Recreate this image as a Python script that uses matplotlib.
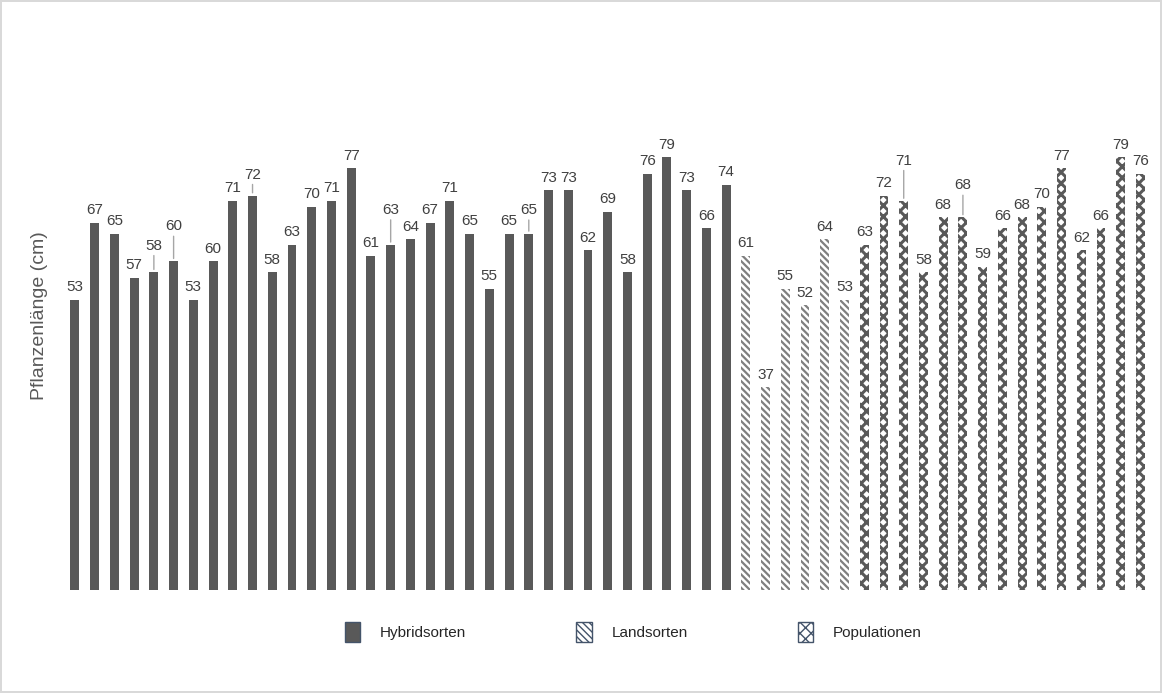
import matplotlib.pyplot as plt
import numpy as np

# Plant length per variety (cm), grouped by variety type
hybrid = [53, 67, 65, 57, 58, 60, 53, 60, 71, 72, 58, 63, 70, 71, 77, 61, 63,
          64, 67, 71, 65, 55, 65, 65, 73, 73, 62, 69, 58, 76, 79, 73, 66, 74]
land = [61, 37, 55, 52, 64, 53]
popul = [63, 72, 71, 58, 68, 68, 59, 66, 68, 70, 77, 62, 66, 79, 76]
groups = ['Hybridsorten', 'Landsorten', 'Populationen']

# labels that sit higher with a leader line: (group, index) -> extra points
raised = {(0, 4): 10, (0, 5): 16, (0, 9): 6, (0, 16): 16, (0, 23): 8,
          (2, 2): 20, (2, 5): 14}

plt.rcParams['font.family'] = ['Liberation Sans', 'DejaVu Sans']

fig = plt.figure(figsize=(11.62, 6.93), dpi=100)
fig.patch.set_edgecolor('#d9d9d9')
fig.patch.set_linewidth(1.5)
ax = fig.add_axes([0.056, 0.149, 0.934, 0.79])

styles = [dict(color='#595959', edgecolor='#595959'),
          dict(color='white', edgecolor='#7f7f7f', hatch='\\\\\\\\\\'),
          dict(color='white', edgecolor='#595959', hatch='xxx')]
hatch_lw = [1.0, 1.6, 2.2]

start = 0
for g, vals in enumerate([hybrid, land, popul]):
    x = np.arange(start, start + len(vals))
    with plt.rc_context({'hatch.linewidth': hatch_lw[g]}):
        ax.bar(x, vals, width=0.45, linewidth=0, label=groups[g], **styles[g])
    for i, (xi, v) in enumerate(zip(x, vals)):
        off = 4 + raised.get((g, i), 0)
        ax.annotate(str(v), (xi, v), xytext=(0, off), textcoords='offset points',
                    ha='center', va='bottom', fontsize=11, color='#404040')
        if (g, i) in raised:
            ax.annotate('', (xi, v), xytext=(0, off), textcoords='offset points',
                        arrowprops=dict(arrowstyle='-', color='#a6a6a6', lw=1))
    start += len(vals)

ax.set_xlim(-0.5, start - 0.5)
ax.set_ylim(0, 100)
ax.set_xticks([])
ax.set_yticks([])
for s in ax.spines.values():
    s.set_visible(False)
ax.set_ylabel('Pflanzenlänge (cm)', fontsize=14, color='#595959', labelpad=12)

handles, labels = ax.get_legend_handles_labels()
leg = fig.legend(handles, labels, loc='center', bbox_to_anchor=(0.545, 0.088),
                 ncol=3, frameon=False, fontsize=11, columnspacing=7.2,
                 handlelength=1.0, handleheight=1.6, handletextpad=1.3)
for p in leg.get_patches():
    p.set_edgecolor('#44546a')
    p.set_linewidth(1)
for t in leg.get_texts():
    t.set_color('#262626')

fig.savefig('out.png', dpi=100)
